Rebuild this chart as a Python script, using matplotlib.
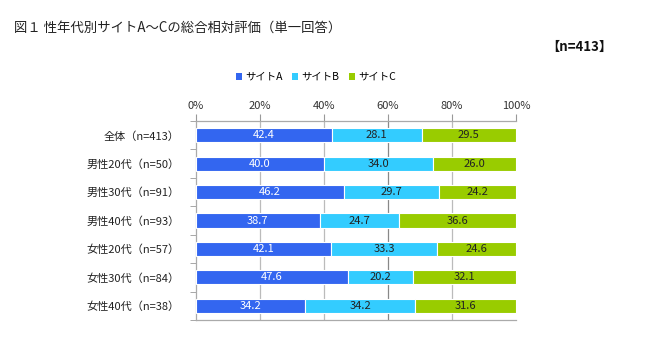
import matplotlib
matplotlib.use("Agg")
import matplotlib.pyplot as plt
import numpy as np
from matplotlib.patches import Patch

plt.rcParams['font.family'] = ['Noto Sans CJK JP', 'DejaVu Sans']

categories = ["全体（n=413）", "男性20代（n=50）", "男性30代（n=91）", "男性40代（n=93）",
              "女性20代（n=57）", "女性30代（n=84）", "女性40代（n=38）"]
series_names = ["サイトA", "サイトB", "サイトC"]
site_a = [42.4, 40.0, 46.2, 38.7, 42.1, 47.6, 34.2]
site_b = [28.1, 34.0, 29.7, 24.7, 33.3, 20.2, 34.2]
site_c = [29.5, 26.0, 24.2, 36.6, 24.6, 32.1, 31.6]
xticks = [0, 20, 40, 60, 80, 100]
xtick_labels = ["0%", "20%", "40%", "60%", "80%", "100%"]

colors = ["#3366F0", "#33CCFF", "#99CC00"]
text_colors = ["white", "#222222", "#222222"]

fig = plt.figure(figsize=(6.5, 3.6), dpi=100)
ax = fig.add_axes([0.3015, 0.111, 0.4923, 0.553])

y = np.arange(len(categories))
left = np.zeros(len(categories))
for vals, col, tc, name in zip([site_a, site_b, site_c], colors, text_colors, series_names):
    vals = np.array(vals)
    ax.barh(y, vals, left=left, height=0.5, color=col, edgecolor="white", linewidth=0.8, zorder=3, label=name)
    for yi, l, v in zip(y, left, vals):
        ax.text(l + v / 2, yi, f"{v:.1f}", ha="center", va="center", color=tc, fontsize=8, zorder=4)
    left = left + vals

ax.set_xlim(0, 100)
ax.set_ylim(len(categories) - 0.5, -0.5)
ax.xaxis.tick_top()
ax.set_xticks(xticks)
ax.set_xticklabels(xtick_labels, fontsize=8, color="#333333")
ax.tick_params(axis="x", length=5, color="#999999", pad=2)
ax.set_yticks(y)
ax.set_yticklabels(categories, fontsize=8, color="#222222")
ax.tick_params(axis="y", length=0, pad=12)
ax.set_yticks(np.arange(len(categories) + 1) - 0.5, minor=True)
ax.tick_params(axis="y", which="minor", length=4, color="#999999")
for xv in xticks[1:-1]:
    ax.axvline(xv, color="#888888" if xv == 60 else "#bbbbbb", linewidth=0.9, zorder=1)
for s in ["top", "bottom", "left", "right"]:
    ax.spines[s].set_color("#aaaaaa")
    ax.spines[s].set_linewidth(0.9)
ax.spines["right"].set_visible(False)

fig.text(14 / 650, 1 - 28 / 360, "図１ 性年代別サイトA～Cの総合相対評価（単一回答）", fontsize=9.6,
         ha="left", va="center", color="#222222")
fig.text(612 / 650, 1 - 47 / 360, "【n=413】", fontsize=9.5, fontweight="bold",
         ha="right", va="center", color="#111111")

handles = [Patch(facecolor=c, edgecolor="none") for c in colors]
fig.legend(handles, series_names, loc="center", bbox_to_anchor=(316 / 650, 1 - 77 / 360), ncol=3,
           frameon=False, fontsize=7.5, handlelength=0.6, handleheight=0.6, handletextpad=0.3,
           columnspacing=0.9)

fig.savefig("out.png", dpi=100, facecolor="white")
